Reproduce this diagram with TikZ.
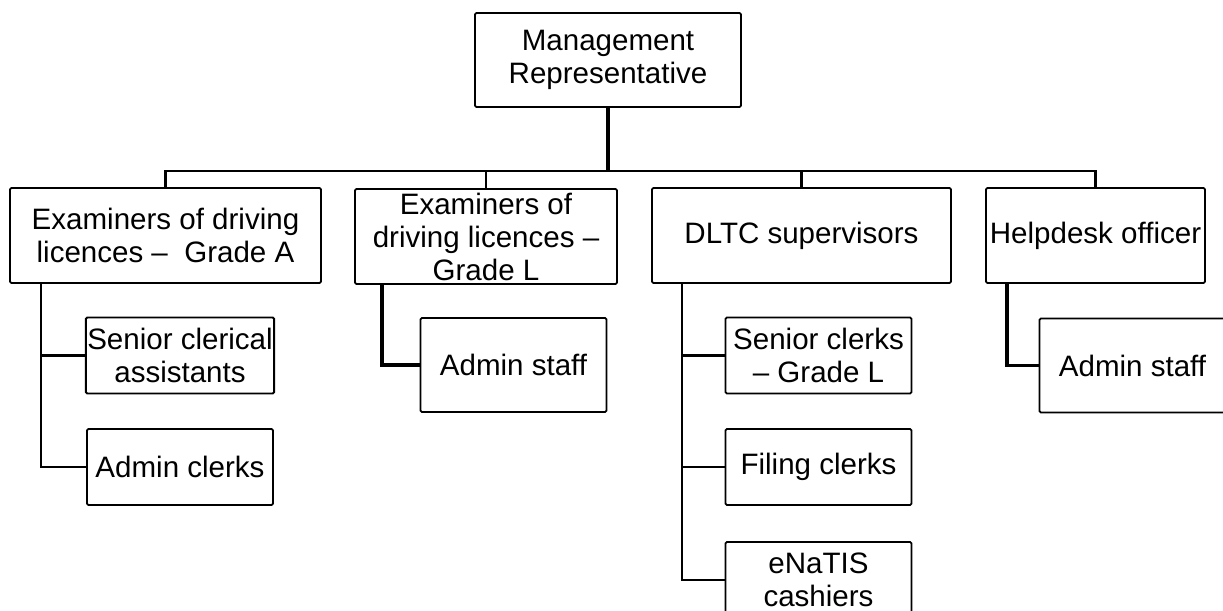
\documentclass[tikz,border=0pt]{standalone}
\usepackage{fontspec}
\setmainfont{Liberation Sans}
\usetikzlibrary{positioning}
\newdimen\pxu \pxu=0.025cm
\tikzset{
  orglabel/.style={font=\fontsize{21}{23.5}\selectfont, text=black},
  orgbox/.style={draw=black, line width=1.3pt, rounded corners=1pt, fill=white, inner sep=1pt},
  headbox/.style={orgbox, minimum height=95\pxu},
  staffbox/.style={orgbox, minimum width=186\pxu, minimum height=76\pxu},
  orglink/.style={line width=1.5pt, draw=black},
  orgtrunk/.style={line width=2.4pt, draw=black}
}

\begin{document}
\begin{tikzpicture}[x=0.025cm, y=-0.025cm, every node/.style={orglabel,align=center}]
\useasboundingbox (0,0) rectangle (1223,611);
% top of the chart
\node[orgbox, minimum width=266\pxu, minimum height=94\pxu] (mgmt) at (608,60) {Management\\Representative};
\coordinate (bar) at (608,171);
% second row
\node[headbox, minimum width=311\pxu] (exA) at (165.5,235.5) {Examiners of driving\\licences --~ Grade A};
\node[headbox, minimum width=262\pxu] (exL) at (486,236.5) {Examiners of\\driving licences --\\Grade L};
\node[headbox, minimum width=299\pxu] (dltc) at (801.5,235.5) {DLTC supervisors};
\node[headbox, minimum width=219\pxu] (help) at (1095.5,235.5) {Helpdesk officer};
% staff under each
\node[staffbox] (scA) at (180,355.5) {Senior clerical\\assistants};
\node[staffbox] (acA) at (180,467) {Admin clerks};
\node[staffbox, minimum height=94\pxu] (asL) at (513.5,365) {Admin staff};
\node[staffbox] (scD) at (818.5,355.5) {Senior clerks\\-- Grade L};
\node[staffbox] (fcD) at (818.5,467) {Filing clerks};
\node[staffbox] (enD) at (818.5,580) {eNaTIS\\cashiers};
\node[staffbox, minimum height=94\pxu] (asH) at (1132.5,365.5) {Admin staff};
% links
\draw[orgtrunk] (mgmt.south) -- (bar);
\draw[orglink] (exA.north) -- (exA.north |- bar) -- (help.north |- bar) -- (help.north);
\draw[orglink] (exL.north) -- (exL.north |- bar);
\draw[orglink] (dltc.north) -- (dltc.north |- bar);
\draw[orglink] ([xshift=32\pxu]exA.south west) |- (scA.west);
\draw[orglink] ([xshift=32\pxu]exA.south west) |- (acA.west);
\draw[orgtrunk] ([xshift=28\pxu]exL.south west) |- (asL.west);
\draw[orglink] ([xshift=31\pxu]dltc.south west) |- (scD.west);
\draw[orglink] ([xshift=31\pxu]dltc.south west) |- (fcD.west);
\draw[orglink] ([xshift=31\pxu]dltc.south west) |- (enD.west);
\draw[orgtrunk] ([xshift=22\pxu]help.south west) |- (asH.west);
\end{tikzpicture}
\end{document}
